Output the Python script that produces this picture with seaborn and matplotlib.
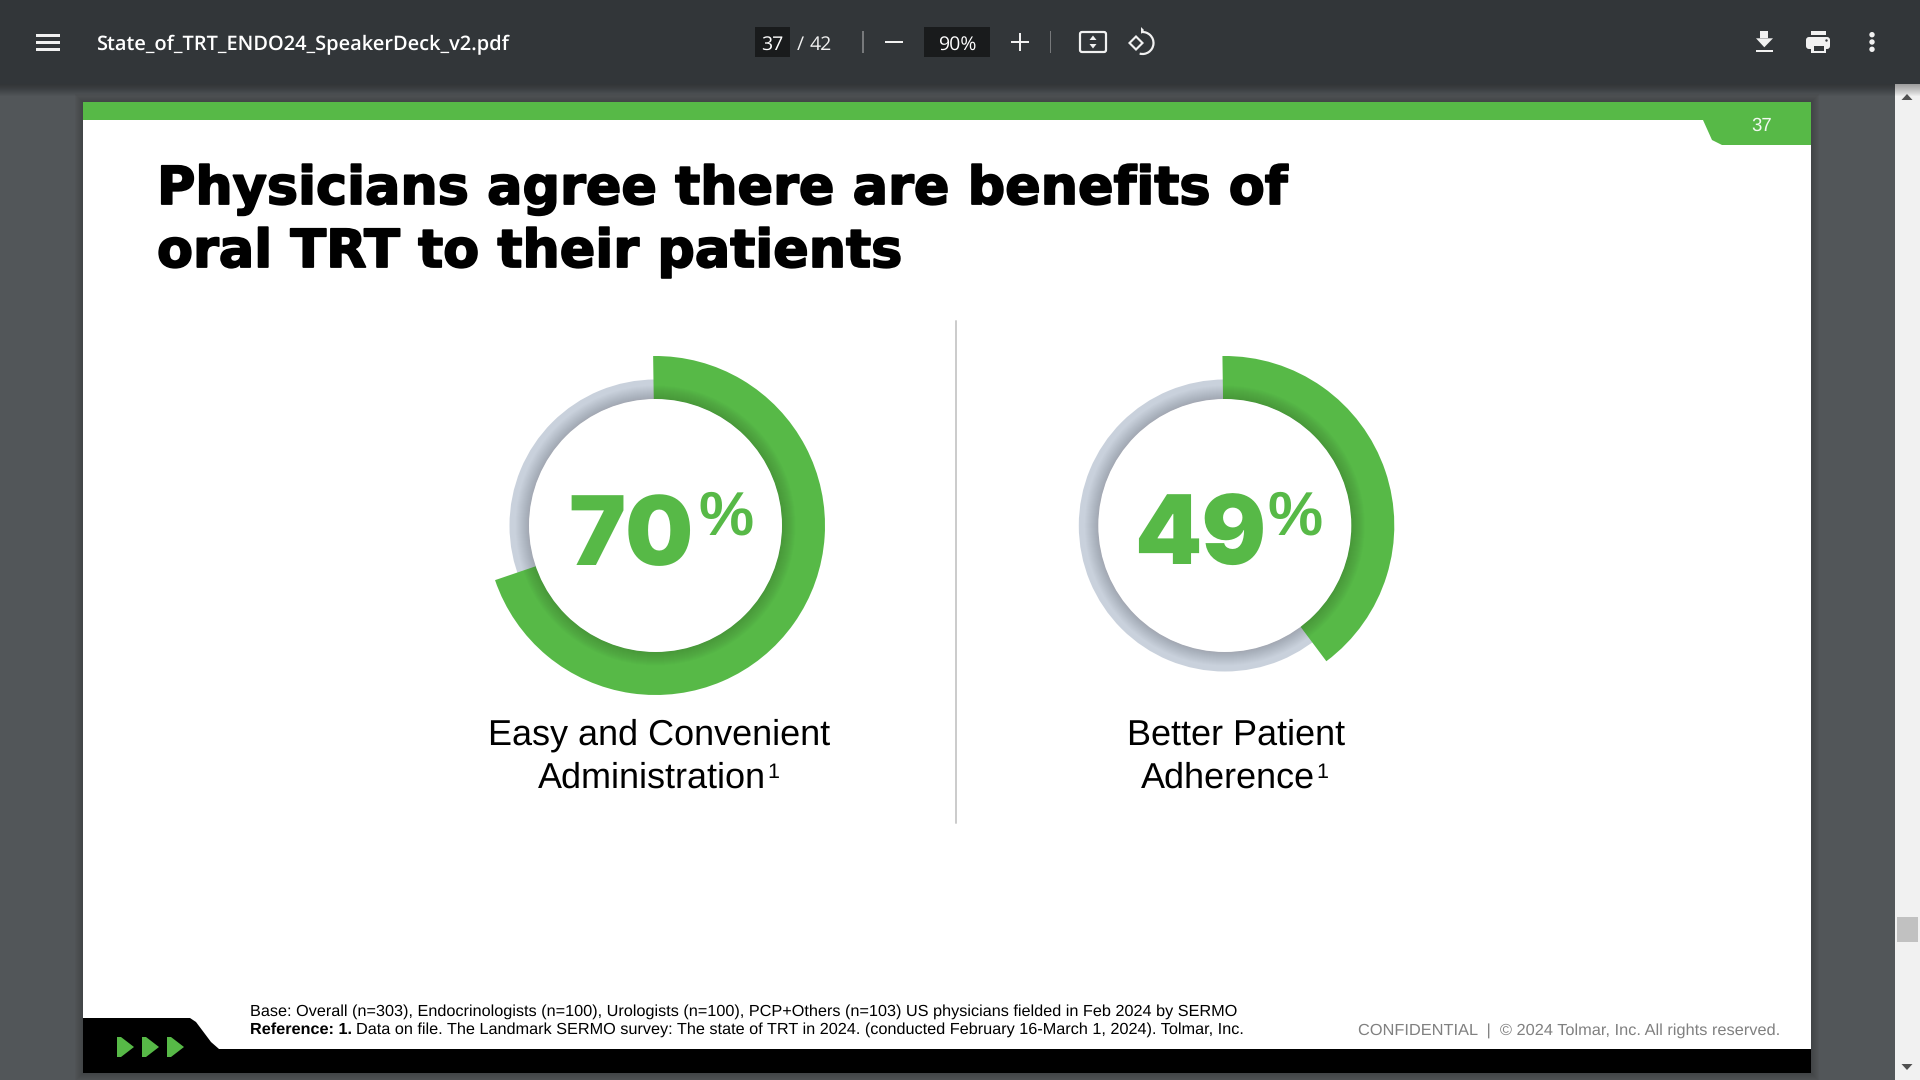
import numpy as np
import matplotlib
matplotlib.use("Agg")
import matplotlib.pyplot as plt
import matplotlib.patheffects as pe
from matplotlib.patches import Rectangle, Polygon, Circle, FancyBboxPatch, Arc
import seaborn as sns

# ---------- data ----------
metric_lines = [["Easy and Convenient", "Administration"], ["Better Patient", "Adherence"]]
reference_mark = "1"
printed_values = ["70", "49"]
arc_shares = [70, 40]          # swept arc as drawn in the picture (the second arc is drawn shorter than its label)
title_lines = ["Physicians agree there are benefits of", "oral TRT to their patients"]
footnote_base = "Base: Overall (n=303), Endocrinologists (n=100), Urologists (n=100), PCP+Others (n=103) US physicians fielded in Feb 2024 by SERMO"
footnote_ref_bold = "Reference: 1."
footnote_ref = "Data on file. The Landmark SERMO survey: The state of TRT in 2024. (conducted February 16-March 1, 2024). Tolmar, Inc."
confidential = "CONFIDENTIAL  |  \u00a9 2024 Tolmar, Inc. All rights reserved."
file_name = "State_of_TRT_ENDO24_SpeakerDeck_v2.pdf"
page_no, page_total, zoom_level = "37", "/ 42", "90%"

GREEN = "#57B947"
GREY = "#C9D1DC"
BAR = "#323639"
BG = "#525659"

sns.set_theme(style="white")
palette = sns.color_palette([GREEN, GREY])
plt.rcParams["font.family"] = ["Liberation Sans", "DejaVu Sans"]
plt.rcParams["text.hinting"] = "no_hinting"

fig = plt.figure(figsize=(19.2, 10.8), dpi=100, facecolor=BG)
ax = fig.add_axes([0, 0, 1, 1])
ax.set_xlim(0, 1920)
ax.set_ylim(1080, 0)
ax.axis("off")
PT = 0.72


def rect(x0, y0, x1, y1, color, z=2, alpha=None):
    ax.add_patch(Rectangle((x0, y0), x1 - x0, y1 - y0, fc=color, ec="none", zorder=z, alpha=alpha))


def poly(points, color, z=3):
    ax.add_patch(Polygon(points, closed=True, fc=color, ec="none", zorder=z))


def txt(x, y, s, px, color="black", ha="left", weight="normal", family=None, stroke=0, z=6):
    kw = {"family": family} if family else {}
    t = ax.text(x, y, s, fontsize=px * PT, color=color, ha=ha, va="baseline", weight=weight, zorder=z, **kw)
    if stroke:
        t.set_path_effects([pe.withStroke(linewidth=stroke * PT, foreground=color)])
    return t


# page shadow, slide
for i in range(1, 9):
    rect(83 - i, 102 - i, 1811 + i, 1073 + i, "black", z=1, alpha=0.022)
rect(83, 102, 1811, 1073, "white", z=2)

# top green band with page tab
poly([(83, 102), (1811, 102), (1811, 145), (1722, 145), (1712, 140), (1703, 120), (83, 120)], GREEN)
txt(1762, 130.5, page_no, 18.6, color="#F2F8F0", ha="center")

# bottom black band with tab and arrows
poly([(83, 1049), (83, 1018), (190, 1018), (196, 1022), (211, 1042), (219, 1049), (1811, 1049), (1811, 1073), (83, 1073)], "black")
for x0 in (117, 142, 167):
    poly([(x0, 1037), (x0 + 4, 1037), (x0 + 17, 1047), (x0 + 4, 1057), (x0, 1057)], GREEN, z=4)

# title
for y, line in zip((204, 267), title_lines):
    txt(157, y, line, 52.4, weight="bold", family="DejaVu Sans", stroke=1.8)

# divider
ax.plot([956, 956], [321, 823], color="#CBCBCB", lw=1.5 * PT * 1.3, zorder=3)


# donuts, one small axes per metric; data units are pixels
def donut(cx, cy, share):
    half = 200
    a = fig.add_axes([(cx - half) / 1920, 1 - (cy + half) / 1080, 2 * half / 1920, 2 * half / 1080], zorder=3)
    a.patch.set_alpha(0)
    a.pie([100], radius=146, colors=[palette[1]], startangle=90,
          wedgeprops=dict(width=146 - 126, linewidth=0), frame=True)
    a.pie([share, 100 - share], radius=169.5, colors=[palette[0], (0, 0, 0, 0)], startangle=90.8,
          counterclock=False, wedgeprops=dict(width=169.5 - 126, linewidth=0), frame=True)
    for r in np.arange(127, 141, 1.0):
        a.add_patch(Circle((0, 0), r, fc="black", ec="none", alpha=0.013, zorder=5))
    a.add_patch(Circle((0, 0), 126.5, fc="white", ec="none", zorder=6))
    a.set_xlim(-half, half)
    a.set_ylim(-half, half)
    a.set_aspect("equal")
    sns.despine(ax=a, left=True, bottom=True)
    a.set_xticks([])
    a.set_yticks([])
    return a


centers = [(655.5, 525.5), (1224.8, 525.5)]
for (cx, cy), share in zip(centers, arc_shares):
    donut(cx, cy, share)

# big numbers on top of the donut axes
top = fig.add_axes([0, 0, 1, 1], zorder=8)
top.set_xlim(0, 1920)
top.set_ylim(1080, 0)
top.axis("off")
num_x = [631.5, 1200]
pct_x = [698, 1267]
for nx, px_, v in zip(num_x, pct_x, printed_values):
    top.text(nx, 565, v, fontsize=96 * PT, color=GREEN, weight="black", family=["Inter", "DejaVu Sans"],
             ha="center", va="baseline")
    top.text(px_, 535, "%", fontsize=62 * PT, color=GREEN, weight="bold", ha="left", va="baseline")

# metric labels
label_x = [(659, 651.5, 767), (1236, 1228, 1316)]
for (x1, x2, x3), lines in zip(label_x, metric_lines):
    txt(x1, 745, lines[0], 36, ha="center")
    txt(x2, 788, lines[1], 36, ha="center")
    txt(x3, 778, reference_mark, 21.5)

# footnotes
txt(250, 1016, footnote_base, 16.22)
txt(250, 1034, footnote_ref_bold, 16.22, weight="bold")
txt(356, 1034, footnote_ref, 16.29)
txt(1358, 1035, confidential, 16.4, color="#808080")

# viewer chrome
rect(1895, 84, 1920, 1080, "#F1F1F1", z=2)
rect(1897, 917, 1918, 942, "#C1C1C1", z=3)
poly([(1901.5, 100), (1912.5, 100), (1907, 94)], "#505050")
poly([(1901.5, 1064), (1912.5, 1064), (1907, 1070)], "#505050")
for i in range(12):
    rect(0, 84, 1920, 84 + i + 1, "black", z=3, alpha=0.03)
rect(0, 0, 1920, 84, BAR, z=4)

for y in (33.5, 40.5, 48):
    rect(36, y, 60, y + 3, "#F1F1F1", z=5)
txt(96, 50.5, file_name, 19.95, color="white", family="Open Sans", weight="semibold")

rect(755, 27, 790, 57, "#191B1C", z=5)
rect(924, 27, 990, 57, "#191B1C", z=5)
txt(772.5, 50, page_no, 19.5, color="white", ha="center", family="Open Sans")
txt(797, 50, "/", 19.5, color="#F1F1F1", family="Open Sans")
txt(810, 50, page_total.split()[1], 19.5, color="#F1F1F1", family="Open Sans")
txt(957, 50, zoom_level, 19.5, color="white", ha="center", family="Open Sans")
rect(862.3, 31, 863.8, 53, "#77797B", z=5)
rect(1049.6, 31, 1050.8, 53, "#77797B", z=5)
rect(885, 41, 903, 43.2, "#F1F1F1", z=5)
rect(1011, 41, 1029, 43.2, "#F1F1F1", z=5)
rect(1019, 33, 1021.2, 51, "#F1F1F1", z=5)

ax.add_patch(FancyBboxPatch((1080, 32), 26, 20, boxstyle="round,pad=0,rounding_size=2", fc="none", ec="#F1F1F1", lw=2.2 * PT, zorder=5))
poly([(1089.5, 40), (1096.5, 40), (1093, 35.5)], "#F1F1F1", z=5)
poly([(1089.5, 44), (1096.5, 44), (1093, 48.5)], "#F1F1F1", z=5)
poly([(1128, 43), (1136, 35), (1144, 43), (1136, 51)], "#F1F1F1", z=5)
poly([(1131, 43), (1136, 38), (1141, 43), (1136, 48)], BAR, z=5)
ax.add_patch(Arc((1142.5, 43), 22, 22, theta1=-95, theta2=105, ec="#F1F1F1", lw=2.2 * PT, zorder=5))
poly([(1141, 34), (1144, 30), (1141, 27)], "#F1F1F1", z=5)

rect(1760, 31, 1768, 38.3, "#F1F1F1", z=5)
poly([(1756, 38.3), (1773, 38.3), (1764.3, 47.3)], "#F1F1F1", z=5)
rect(1755.5, 50, 1773, 52.3, "#F1F1F1", z=5)

rect(1811, 31, 1826, 35, "#F1F1F1", z=5)
ax.add_patch(FancyBboxPatch((1806, 37), 24, 12, boxstyle="round,pad=0,rounding_size=3", fc="#F1F1F1", ec="none", zorder=5))
rect(1811, 44, 1826, 53, "#F1F1F1", z=5)
rect(1813.5, 45.5, 1823.5, 50.5, BAR, z=6)
ax.add_patch(Circle((1826.5, 40.5), 1.2, fc=BAR, ec="none", zorder=6))

for y in (34.7, 42, 49.3):
    ax.add_patch(Circle((1872, y), 2.7, fc="#F1F1F1", ec="none", zorder=5))

fig.savefig("out.png", dpi=100, facecolor=BG)
